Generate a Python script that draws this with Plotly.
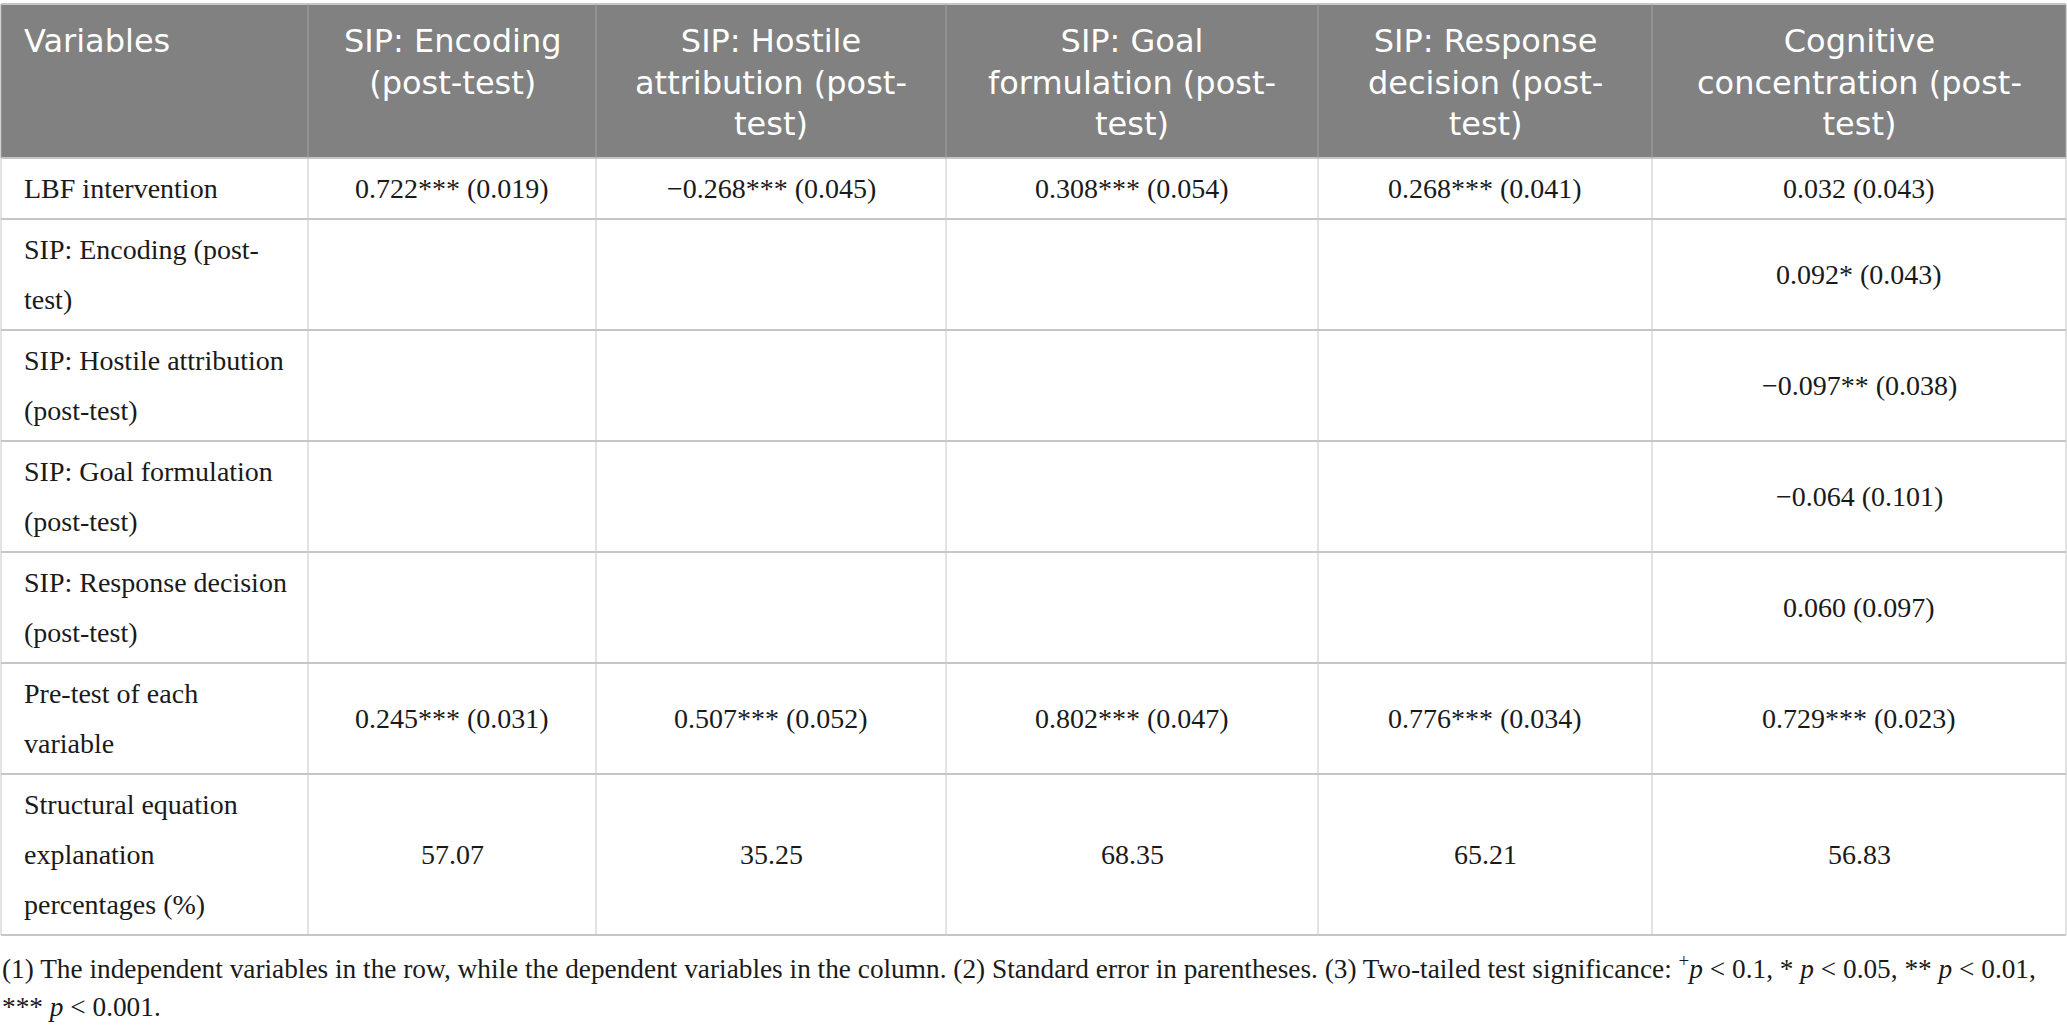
import plotly.graph_objects as go

# table content
header = ["Variables",
          "SIP: Encoding<br>(post-test)",
          "SIP: Hostile<br>attribution (post-<br>test)",
          "SIP: Goal<br>formulation (post-<br>test)",
          "SIP: Response<br>decision (post-<br>test)",
          "Cognitive<br>concentration (post-<br>test)"]

row_labels = ["LBF intervention",
              "SIP: Encoding (post-<br>test)",
              "SIP: Hostile attribution<br>(post-test)",
              "SIP: Goal formulation<br>(post-test)",
              "SIP: Response decision<br>(post-test)",
              "Pre-test of each<br>variable",
              "Structural equation<br>explanation<br>percentages (%)"]

encoding = ["0.722*** (0.019)", "", "", "", "", "0.245*** (0.031)", "57.07"]
hostile = ["\u22120.268*** (0.045)", "", "", "", "", "0.507*** (0.052)", "35.25"]
goal = ["0.308*** (0.054)", "", "", "", "", "0.802*** (0.047)", "68.35"]
response = ["0.268*** (0.041)", "", "", "", "", "0.776*** (0.034)", "65.21"]
cognitive = ["0.032 (0.043)", "0.092* (0.043)", "\u22120.097** (0.038)",
             "\u22120.064 (0.101)", "0.060 (0.097)", "0.729*** (0.023)", "56.83"]

footnote = ["(1) The independent variables in the row, while the dependent variables in the column. "
            "(2) Standard error in parentheses. (3) Two-tailed test significance: "
            "<sup>+</sup><i>p</i> < 0.1, * <i>p</i> < 0.05, ** <i>p</i> < 0.01,",
            "*** <i>p</i> < 0.001."]

columns = [row_labels, encoding, hostile, goal, response, cognitive]

# layout (pixels)
W, H = 2067, 1028
col_widths = [307, 288, 350, 372, 334, 414]
left, top = 1, 4
head_size = 32
head_line = 1.3 * head_size     # plotly's own line spacing for <br>
head_pad, head_height = 37, 154
body_line, body_pad = 50, 11
text_pad = 21

HEAD_BG = "#808180"
GRID = "#c6c6c6"
HEAD_FONT = dict(family="DejaVu Sans", size=head_size, color="white")
BODY_FONT = dict(family="Liberation Serif", size=28, color="#1a1a1a")
NOTE_FONT = dict(family="Liberation Serif", size=27.3, color="#1a1a1a")

x_edges = [left]
for w in col_widths:
    x_edges.append(x_edges[-1] + w)

y_edges = [top, top + head_height]
for r in range(len(row_labels)):
    n = max(len(col[r].split("<br>")) for col in columns)
    y_edges.append(y_edges[-1] + body_pad + n * body_line)

fig = go.Figure()
shapes = []
annots = []

shapes.append(dict(type="rect", x0=x_edges[0], x1=x_edges[-1], y0=y_edges[0], y1=y_edges[1],
                   fillcolor=HEAD_BG, line=dict(width=0), layer="below"))

# header text (one block per cell, top aligned)
for c, h in enumerate(header):
    n = len(h.split("<br>"))
    if c == 0:
        x, anchor = x_edges[0] + text_pad, "left"
    else:
        x, anchor = (x_edges[c] + x_edges[c + 1]) / 2, "center"
    annots.append(dict(x=x, y=y_edges[0] + head_pad + (n - 1) / 2 * head_line, text=h,
                       xanchor=anchor, yanchor="middle", align=anchor, showarrow=False,
                       font=HEAD_FONT))

# body text
for r in range(len(row_labels)):
    yc = (y_edges[r + 1] + y_edges[r + 2]) / 2
    for c, col in enumerate(columns):
        lines = col[r].split("<br>") if col[r] else []
        for i, line in enumerate(lines):
            y = yc + (i - (len(lines) - 1) / 2) * body_line
            if c == 0:
                x, anchor = x_edges[0] + text_pad, "left"
            else:
                x, anchor = (x_edges[c] + x_edges[c + 1]) / 2, "center"
            annots.append(dict(x=x, y=y, text=line, xanchor=anchor, yanchor="middle",
                               showarrow=False, font=BODY_FONT))

# grid lines
for y in y_edges:
    shapes.append(dict(type="line", x0=x_edges[0], x1=x_edges[-1], y0=y, y1=y,
                       line=dict(color=GRID, width=2)))
for c, x in enumerate(x_edges):
    shapes.append(dict(type="line", x0=x, x1=x, y0=y_edges[0], y1=y_edges[1],
                       line=dict(color="#a3a4a3", width=1)))
    shapes.append(dict(type="line", x0=x, x1=x, y0=y_edges[1], y1=y_edges[-1],
                       line=dict(color=GRID, width=1)))

# footnote
for i, line in enumerate(footnote):
    annots.append(dict(x=x_edges[0] - 1, y=y_edges[-1] + 32 + i * 40, text=line,
                       xanchor="left", yanchor="middle", showarrow=False, font=NOTE_FONT))

fig.update_layout(
    width=W, height=H,
    margin=dict(l=0, r=0, t=0, b=0),
    paper_bgcolor="white", plot_bgcolor="white",
    xaxis=dict(range=[0, W], visible=False, fixedrange=True),
    yaxis=dict(range=[H, 0], visible=False, fixedrange=True),
    shapes=shapes, annotations=annots,
    showlegend=False,
)

fig.write_html("out.html", config={"displayModeBar": False},
               post_script="document.body.style.margin='0';")
